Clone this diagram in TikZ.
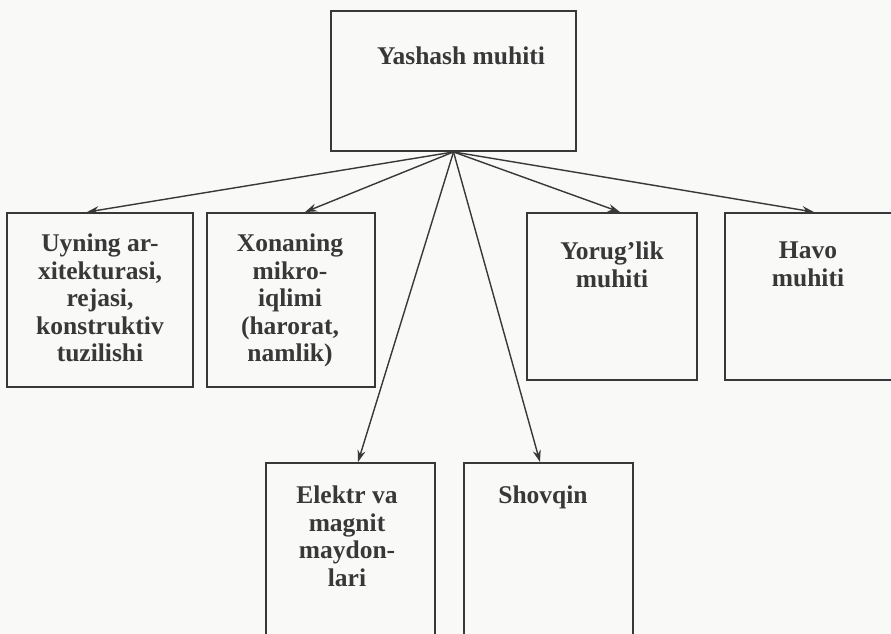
\documentclass[tikz,border=0pt]{standalone}
\usepackage{fontspec}
\setmainfont{Liberation Serif}
\usetikzlibrary{arrows.meta}
\definecolor{ink}{HTML}{383838}
\definecolor{paper}{HTML}{F9F9F7}
\begin{document}
\begin{tikzpicture}[x=1pt,y=-1pt,
  box/.style={draw=ink, line width=1.9pt, rectangle, inner sep=0pt},
  lbl/.style={text=ink, font=\bfseries\fontsize{25.5}{27.5}\selectfont,
              align=center, inner sep=0pt, anchor=north},
  link/.style={draw=ink, line width=1.4pt,
               -{Stealth[length=12pt,width=8pt,inset=4pt]}}]
% page
\fill[paper] (0,0) rectangle (891,634);
\clip (0,0) rectangle (891,634);

% boxes
\node[box, minimum width=245, minimum height=140] (root)  at (453.5,81) {};
\node[box, minimum width=186, minimum height=174] (arch)  at (100,300) {};
\node[box, minimum width=168, minimum height=174] (clim)  at (291,300) {};
\node[box, minimum width=170, minimum height=167] (light) at (612,296.5) {};
\node[box, minimum width=186, minimum height=167] (air)   at (818,296.5) {};
\node[box, minimum width=169, minimum height=197] (emf)   at (350.5,561.5) {};
\node[box, minimum width=169, minimum height=197] (noise) at (548.5,561.5) {};

% texts
\node[lbl, anchor=base] (rootT) at (461,65) {Yashash muhiti};
\node[lbl] (archT)  at (100,234) {Uyning ar-\\xitekturasi,\\rejasi,\\konstruktiv\\tuzilishi};
\node[lbl] (climT)  at (290,234) {Xonaning\\mikro-\\iqlimi\\(harorat,\\namlik)};
\node[lbl] (lightT) at (612,242) {Yorug’lik\\muhiti};
\node[lbl] (airT)   at (808,242) {Havo\\muhiti};
\node[lbl] (emfT)   at (347,486) {Elektr va\\magnit\\maydon-\\lari};
\node[lbl] (noiseT) at (543,486) {Shovqin};

% connectors fanning out from the bottom of the root box
\draw[link] (root.south) -- ([xshift=-13pt]arch.north);
\draw[link] (root.south) -- ([xshift=14pt]clim.north);
\draw[link] (root.south) -- ([xshift=8pt]light.north);
\draw[link] (root.south) -- ([xshift=-4pt]air.north);
\draw[link] (root.south) -- ([xshift=7.5pt]emf.north);
\draw[link] (root.south) -- ([xshift=-8.5pt]noise.north);
\end{tikzpicture}
\end{document}
